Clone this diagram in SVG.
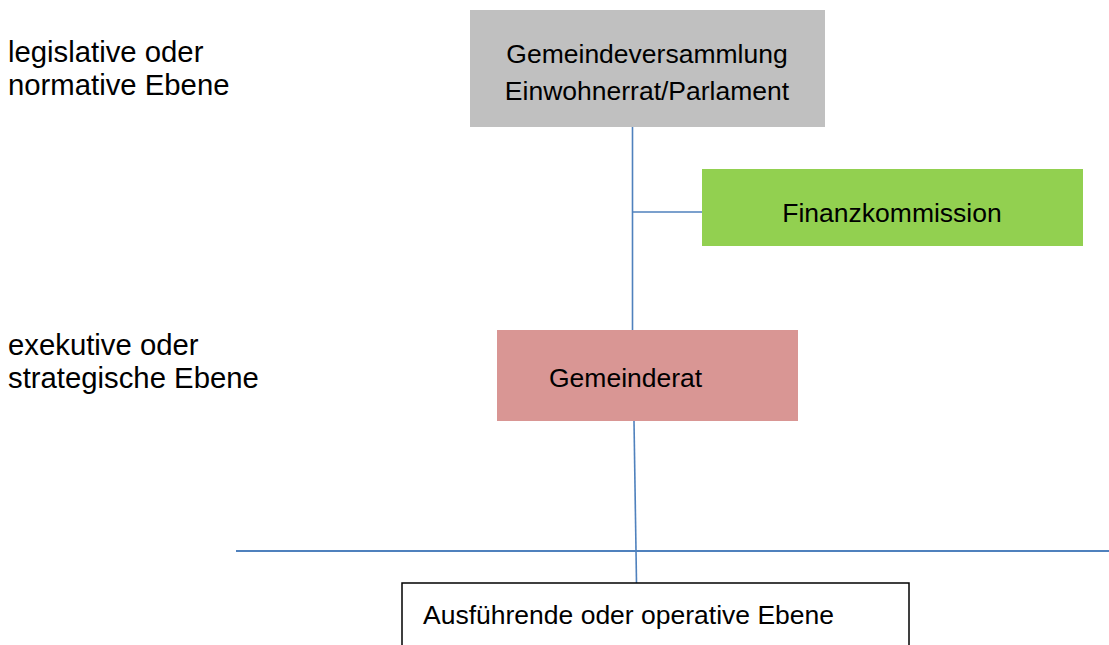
<svg xmlns="http://www.w3.org/2000/svg" width="1109" height="645" viewBox="0 0 1109 645">
<style>
text{font-family:"Liberation Sans",Arial,sans-serif;fill:#000}
.lbl{font-size:29.3px}
.box{font-size:26.5px}
.conn line{stroke:#4f81bd;stroke-width:1.6;fill:none}
</style>
<rect width="1109" height="645" fill="#fff"/>
<g id="label-legislative">
<text class="lbl" x="8" y="62">legislative oder</text>
<text class="lbl" x="8" y="95">normative Ebene</text>
</g>
<g id="label-exekutive">
<text class="lbl" x="8" y="355">exekutive oder</text>
<text class="lbl" x="8" y="388">strategische Ebene</text>
</g>
<g class="conn" id="connectors">
<line x1="632.5" y1="127" x2="632.5" y2="330"/>
<line x1="632.5" y1="212" x2="702" y2="212"/>
<line x1="634" y1="421" x2="636.5" y2="583"/>
<line x1="236" y1="551" x2="1109" y2="551" style="stroke-width:2"/>
</g>
<g id="gemeindeversammlung">
<rect x="470" y="10" width="355" height="117" fill="#c0c0c0"/>
<text class="box" x="647" y="63" text-anchor="middle">Gemeindeversammlung</text>
<text class="box" x="647" y="100" text-anchor="middle">Einwohnerrat/Parlament</text>
</g>
<g id="finanzkommission">
<rect x="702" y="169" width="381" height="77" fill="#92d050"/>
<text class="box" x="892" y="222" text-anchor="middle">Finanzkommission</text>
</g>
<g id="gemeinderat">
<rect x="497" y="330" width="301" height="91" fill="#d99694"/>
<text class="box" x="549" y="387">Gemeinderat</text>
</g>
<g id="operative">
<rect x="402" y="583" width="507" height="80" fill="#fff" stroke="#000" stroke-width="1.5"/>
<text class="box" x="423" y="624">Ausführende oder operative Ebene</text>
</g>
</svg>
